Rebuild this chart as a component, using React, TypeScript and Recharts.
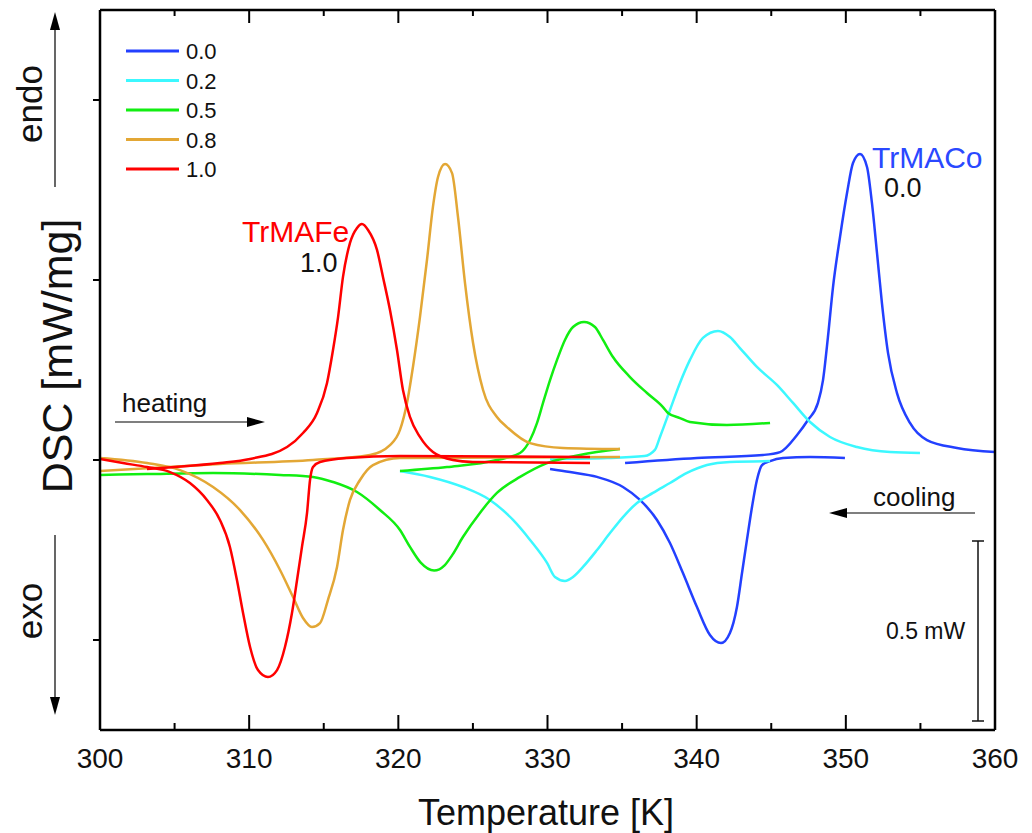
import { LineChart, Line, XAxis, YAxis } from "recharts";

// temperature [K], signal (1 unit = 0.5 mW on the scale bar)
const heat00 = [
  [335.2, -0.017], [340.02, 0.011], [344.45, 0.028], [345.59, 0.044], [346.73, 0.139], [347.46, 0.222],
  [348.13, 0.317], [348.47, 0.444], [348.8, 0.683], [349.14, 0.961], [349.61, 1.239], [350.08, 1.483],
  [350.48, 1.65], [350.95, 1.7], [351.42, 1.628], [351.75, 1.428], [352.09, 1.15], [352.42, 0.872],
  [352.83, 0.594], [353.43, 0.372], [354.3, 0.206], [355.44, 0.111], [357.45, 0.067], [360, 0.044],
];
const cool00 = [
  [330.17, -0.05], [331.51, -0.067], [333.32, -0.094], [335.06, -0.15], [336.2, -0.222], [337.34, -0.333],
  [338.21, -0.461], [339.08, -0.628], [340.02, -0.817], [340.89, -0.972], [341.63, -1.017], [342.23, -0.961],
  [342.7, -0.817], [343.04, -0.628], [343.37, -0.444], [343.71, -0.261], [344.04, -0.111], [344.38, -0.028],
  [344.92, -0.006], [345.79, 0.011], [347.6, 0.017], [349.94, 0.011],
];
const heat02 = [
  [330.17, 0.006], [334.0, 0.011], [336.5, 0.022], [337.2, 0.056], [337.54, 0.128], [338.21, 0.278],
  [338.88, 0.428], [339.55, 0.556], [340.42, 0.678], [341.43, 0.717], [342.23, 0.683], [342.9, 0.622],
  [344.04, 0.517], [345.38, 0.417], [346.46, 0.317], [347.6, 0.211], [348.94, 0.128], [350.75, 0.072],
  [352.96, 0.044], [354.97, 0.039],
];
const cool02 = [
  [320.11, -0.061], [322.12, -0.094], [324.33, -0.15], [326.14, -0.222], [327.69, -0.333], [328.83, -0.444],
  [329.97, -0.572], [330.5, -0.65], [331.17, -0.672], [331.71, -0.65], [332.38, -0.594], [333.32, -0.5],
  [334.19, -0.406], [335.06, -0.317], [336.0, -0.239], [337.07, -0.183], [338.21, -0.128], [339.35, -0.072],
  [340.69, -0.028], [342.23, -0.011], [344.92, -0.006],
];
const heat05 = [
  [320.11, -0.061], [323.26, -0.039], [326.61, 0], [328.16, 0.039], [328.83, 0.111], [329.3, 0.206],
  [329.7, 0.317], [330.17, 0.444], [330.64, 0.556], [331.17, 0.667], [331.71, 0.739], [332.45, 0.767],
  [333.18, 0.739], [333.72, 0.667], [334.39, 0.572], [335.53, 0.461], [336.67, 0.372], [337.74, 0.294],
  [338.08, 0.261], [338.88, 0.233], [339.55, 0.211], [342.03, 0.194], [344.92, 0.206],
];
const cool05 = [
  [300, -0.083], [303.15, -0.078], [307.58, -0.072], [312.07, -0.083], [314.28, -0.094], [315.62, -0.122],
  [317.23, -0.178], [318.77, -0.278], [320.11, -0.389], [320.78, -0.483], [321.5, -0.57], [322.4, -0.614],
  [323.1, -0.585], [323.6, -0.53], [324.33, -0.428], [325.47, -0.294], [326.61, -0.183], [328.16, -0.094],
  [329.97, -0.017], [332.18, 0.028], [334.86, 0.061],
];
const heat08 = [
  [300, -0.061], [308.04, -0.022], [314.28, 0], [318.1, 0.028], [319.44, 0.083], [320.11, 0.167],
  [320.58, 0.317], [320.98, 0.517], [321.45, 0.794], [321.92, 1.111], [322.32, 1.406], [322.66, 1.572],
  [323.13, 1.644], [323.6, 1.594], [324.0, 1.35], [324.47, 0.983], [325.01, 0.65], [325.68, 0.389],
  [326.61, 0.239], [327.28, 0.183], [328.83, 0.094], [331.04, 0.067], [334.86, 0.061],
];
const cool08 = [
  [300, 0.011], [303.15, -0.017], [305.36, -0.056], [307.58, -0.15], [309.39, -0.278], [310.93, -0.444],
  [312.07, -0.611], [312.94, -0.761], [313.61, -0.878], [314.21, -0.928], [314.75, -0.906], [315.28, -0.778],
  [315.89, -0.594], [316.29, -0.389], [316.76, -0.222], [317.43, -0.111], [318.3, -0.028], [320.11, 0.011],
  [334.86, 0.017],
];
const heat10 = [
  [303.15, -0.05], [305.03, -0.039], [308.04, -0.017], [310.06, 0.006], [312.54, 0.072], [313.61, 0.15],
  [314.55, 0.261], [315.22, 0.428], [315.62, 0.611], [315.96, 0.794], [316.29, 1.017], [316.76, 1.206],
  [317.23, 1.289], [317.56, 1.311], [317.97, 1.278], [318.57, 1.167], [318.97, 1.017], [319.44, 0.833],
  [319.91, 0.611], [320.31, 0.389], [320.78, 0.239], [321.45, 0.128], [322.32, 0.044], [323.66, 0],
  [325.0, -0.011], [332.85, -0.017],
];
const cool10 = [
  [300, 0.006], [301.54, -0.017], [303.15, -0.039], [304.69, -0.067], [306.03, -0.128], [307.17, -0.222],
  [308.04, -0.333], [308.71, -0.483], [309.18, -0.667], [309.59, -0.85], [310.06, -1.039], [310.59, -1.167],
  [311.26, -1.206], [311.87, -1.167], [312.4, -1.039], [312.87, -0.85], [313.21, -0.667], [313.54, -0.483],
  [313.88, -0.294], [314.08, -0.111], [314.28, -0.039], [314.75, -0.011], [316.56, 0.011], [320.11, 0.022],
  [332.85, 0.017],
];

const xTicks = [300, 305, 310, 315, 320, 325, 330, 335, 340, 345, 350, 355, 360];
const yTicks = [-1, 0, 1, 2];

const series = [
  { name: "0.0", color: "#2340ff", heat: heat00, cool: cool00 },
  { name: "0.2", color: "#3cf8ff", heat: heat02, cool: cool02 },
  { name: "0.5", color: "#11ee11", heat: heat05, cool: cool05 },
  { name: "0.8", color: "#e3a735", heat: heat08, cool: cool08 },
  { name: "1.0", color: "#ff0000", heat: heat10, cool: cool10 },
];

const toRows = (pts: number[][]) => pts.map(([t, v]) => ({ t, v }));

const FONT = "'Liberation Sans', Arial, Helvetica, sans-serif";

function BottomTick(props: any) {
  const { x, y, payload } = props;
  const major = payload.value % 10 === 0;
  return (
    <g>
      <line x1={x} y1={y} x2={x} y2={y - (major ? 15 : 7)} stroke="#000" strokeWidth={2} />
      {major && (
        <text x={x} y={y + 38} textAnchor="middle" fontSize={28} fontFamily={FONT} fill="#111">
          {payload.value}
        </text>
      )}
    </g>
  );
}

function TopTick(props: any) {
  const { x, y, payload } = props;
  const major = payload.value % 10 === 0;
  return <line x1={x} y1={y} x2={x} y2={y + (major ? 13 : 6)} stroke="#000" strokeWidth={2} />;
}

function LeftTick(props: any) {
  const { x, y } = props;
  return <line x1={x - 7} y1={y} x2={x} y2={y} stroke="#000" strokeWidth={2} />;
}

function Arrow({ x1, y1, x2, y2 }: { x1: number; y1: number; x2: number; y2: number }) {
  const len = Math.hypot(x2 - x1, y2 - y1);
  const ux = (x2 - x1) / len;
  const uy = (y2 - y1) / len;
  const hl = 18;
  const hw = 5;
  const bx = x2 - ux * hl;
  const by = y2 - uy * hl;
  return (
    <g>
      <line x1={x1} y1={y1} x2={bx} y2={by} stroke="#000" strokeWidth={1.2} />
      <polygon points={`${x2},${y2} ${bx - uy * hw},${by + ux * hw} ${bx + uy * hw},${by - ux * hw}`} fill="#000" />
    </g>
  );
}

export default function App() {
  return (
    <div style={{ position: "absolute", left: 0, top: 0, width: 1032, height: 833, background: "#fff" }}>
      <LineChart width={1032} height={833} margin={{ top: 9, right: 36, bottom: 102, left: 99 }}>
        <XAxis
          xAxisId="b"
          dataKey="t"
          type="number"
          domain={[300, 360]}
          allowDataOverflow
          ticks={xTicks}
          interval={0}
          height={1}
          tickSize={0}
          tickMargin={0}
          tickLine={false}
          tick={BottomTick}
          axisLine={{ stroke: "#000", strokeWidth: 2.5 }}
        />
        <XAxis
          xAxisId="t"
          orientation="top"
          dataKey="t"
          type="number"
          domain={[300, 360]}
          allowDataOverflow
          ticks={xTicks}
          interval={0}
          height={1}
          tickSize={0}
          tickMargin={0}
          tickLine={false}
          tick={TopTick}
          axisLine={{ stroke: "#000", strokeWidth: 2.5 }}
        />
        <YAxis
          yAxisId="l"
          type="number"
          domain={[-1.5, 2.5]}
          allowDataOverflow
          ticks={yTicks}
          interval={0}
          width={1}
          tickSize={0}
          tickMargin={0}
          tickLine={false}
          tick={LeftTick}
          axisLine={{ stroke: "#000", strokeWidth: 2.5 }}
        />
        <YAxis
          yAxisId="r"
          orientation="right"
          type="number"
          domain={[-1.5, 2.5]}
          allowDataOverflow
          width={1}
          tick={false}
          tickLine={false}
          axisLine={{ stroke: "#000", strokeWidth: 2.5 }}
        />
        {series.flatMap((s) => [
          <Line
            key={s.name + "h"}
            xAxisId="b"
            yAxisId="l"
            data={toRows(s.heat)}
            dataKey="v"
            type="monotone"
            stroke={s.color}
            strokeWidth={2.5}
            dot={false}
            isAnimationActive={false}
          />,
          <Line
            key={s.name + "c"}
            xAxisId="b"
            yAxisId="l"
            data={toRows(s.cool)}
            dataKey="v"
            type="monotone"
            stroke={s.color}
            strokeWidth={2.5}
            dot={false}
            isAnimationActive={false}
          />,
        ])}
        {/* invisible anchors so the top and right frame axes have something bound to them */}
        <Line
          xAxisId="t"
          yAxisId="r"
          data={toRows(heat00)}
          dataKey="v"
          stroke="none"
          dot={false}
          legendType="none"
          isAnimationActive={false}
        />
      </LineChart>

      <svg
        width={1032}
        height={833}
        style={{ position: "absolute", left: 0, top: 0, pointerEvents: "none" }}
        fontFamily={FONT}
      >
        {/* legend */}
        {series.map((s, i) => (
          <g key={s.name}>
            <line x1={126} y1={51 + i * 29.5} x2={179} y2={51 + i * 29.5} stroke={s.color} strokeWidth={3} />
            <text x={186} y={59 + i * 29.5} fontSize={22} fill="#111">
              {s.name}
            </text>
          </g>
        ))}

        <text x={546} y={825} textAnchor="middle" fontSize={36} fill="#111">
          Temperature [K]
        </text>
        <text x={72} y={356} textAnchor="middle" fontSize={43} fill="#111" transform="rotate(-90 72 356)">
          DSC [mW/mg]
        </text>
        <text x={42} y={104} textAnchor="middle" fontSize={35} fill="#111" transform="rotate(-90 42 104)">
          endo
        </text>
        <text x={42} y={611} textAnchor="middle" fontSize={35} fill="#111" transform="rotate(-90 42 611)">
          exo
        </text>
        <Arrow x1={55} y1={187} x2={55} y2={12} />
        <Arrow x1={55} y1={535} x2={55} y2={715} />

        <text x={242} y={242} fontSize={30} fill="#ff0000">TrMAFe</text>
        <text x={300} y={272} fontSize={27} fill="#111">1.0</text>
        <text x={872} y={168} fontSize={30} fill="#2a48ff">TrMACo</text>
        <text x={884} y={197} fontSize={27} fill="#111">0.0</text>

        <text x={122} y={412} fontSize={26} fill="#111">heating</text>
        <Arrow x1={115} y1={422} x2={265} y2={422} />
        <text x={873} y={506} fontSize={26} fill="#111">cooling</text>
        <Arrow x1={975} y1={513} x2={829} y2={513} />

        <line x1={978} y1={541} x2={978} y2={721} stroke="#111" strokeWidth={1.5} />
        <line x1={972} y1={541} x2={984} y2={541} stroke="#111" strokeWidth={1.5} />
        <line x1={972} y1={721} x2={984} y2={721} stroke="#111" strokeWidth={1.5} />
        <text x={886} y={639} fontSize={23} fill="#111">0.5 mW</text>
      </svg>
    </div>
  );
}
